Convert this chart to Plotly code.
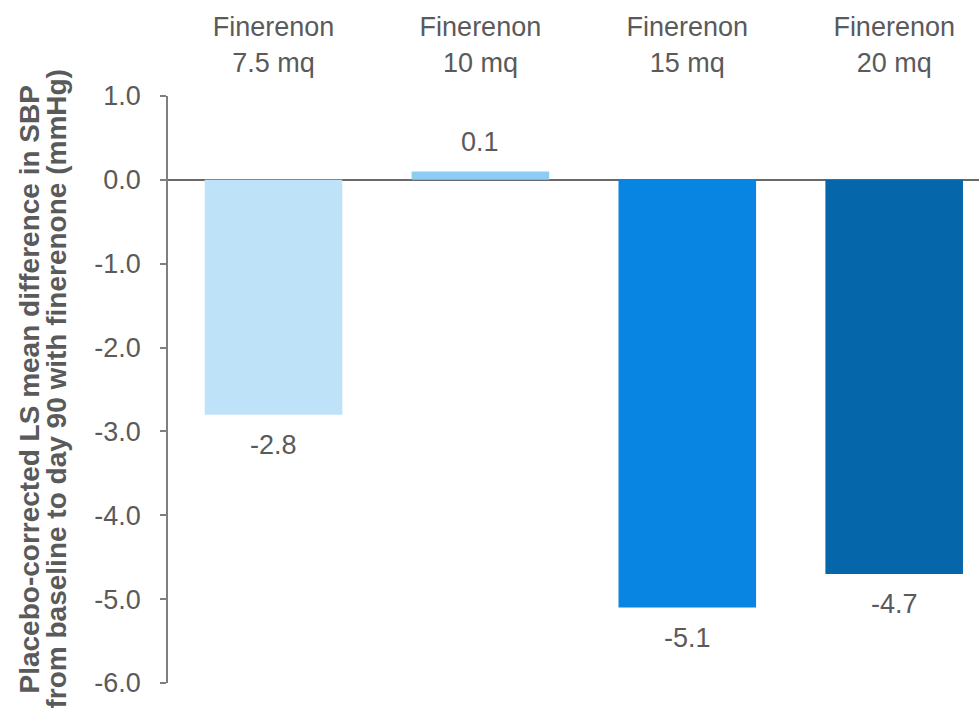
import plotly.graph_objects as go

# Finerenone dose groups and placebo-corrected SBP change (mmHg)
doses = ["7.5 mq", "10 mq", "15 mq", "20 mq"]
drug = "Finerenon"
sbp_change = [-2.8, 0.1, -5.1, -4.7]
bar_colors = ["#BEE3F8", "#8DCDF4", "#0884E2", "#0567AA"]

y_ticks = [1.0, 0.0, -1.0, -2.0, -3.0, -4.0, -5.0, -6.0]
y_title_lines = [
    "Placebo-corrected LS mean difference in SBP",
    "from baseline to day 90 with finerenone (mmHg)",
]

TEXT = "#5A5A5A"
FONT = "Liberation Sans, Arial, sans-serif"

x_pos = list(range(len(doses)))

fig = go.Figure(
    go.Bar(
        x=x_pos,
        y=sbp_change,
        width=0.665,
        marker=dict(color=bar_colors, line=dict(width=0)),
        hoverinfo="skip",
    )
)

# value labels just beyond each bar end
for xi, v in zip(x_pos, sbp_change):
    fig.add_annotation(
        x=xi, y=v, text=f"{v:.1f}", showarrow=False,
        yshift=29 if v >= 0 else -30, yanchor="middle",
        font=dict(family=FONT, size=27, color=TEXT),
    )

# two-line rotated y-axis title
for shift, line in zip([-139, -112], y_title_lines):
    fig.add_annotation(
        xref="paper", yref="paper", x=0, y=0.5, xshift=shift,
        text=f"<b>{line}</b>", showarrow=False, textangle=-90,
        xanchor="center", yanchor="middle",
        font=dict(family=FONT, size=28, color=TEXT),
    )

fig.update_layout(
    width=979, height=726,
    margin=dict(l=168, r=0, t=96, b=43),
    paper_bgcolor="white", plot_bgcolor="white",
    showlegend=False,
    font=dict(family=FONT, size=27, color=TEXT),
    xaxis=dict(
        side="top",
        range=[-0.51, 3.41],
        tickvals=x_pos,
        ticktext=[f"{drug}<br>{d}" for d in doses],
        ticks="", showline=False, showgrid=False, zeroline=False,
        ticklabelstandoff=18,
        tickfont=dict(family=FONT, size=27, color=TEXT),
    ),
    yaxis=dict(
        range=[-6.0, 1.0],
        tickvals=y_ticks,
        ticktext=[f"{t:.1f}" for t in y_ticks],
        ticks="outside", ticklen=6, tickwidth=1.5, tickcolor="#7F7F7F",
        showline=True, linecolor="#7F7F7F", linewidth=1.5,
        showgrid=False,
        zeroline=True, zerolinecolor="#6A6A6A", zerolinewidth=2,
        ticklabelstandoff=14,
        tickfont=dict(family=FONT, size=27, color=TEXT),
    ),
)

fig.write_html("out.html")
